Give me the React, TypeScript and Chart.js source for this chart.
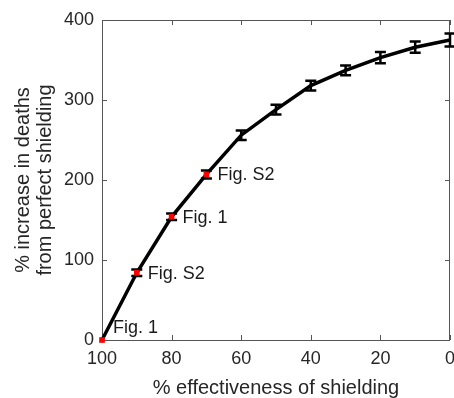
import React, { useEffect, useRef } from "react";
import { Chart, registerables } from "chart.js";

Chart.register(...registerables);

const effectiveness = [100, 90, 80, 70, 60, 50, 40, 30, 20, 10, 0];
const deathIncrease = [0, 84, 154, 207, 256, 288, 318, 337, 353, 366, 375];
const errorHalf = [0, 4, 4, 5, 6, 6, 6, 6, 7, 7, 8];
const highlighted = [100, 90, 80, 70];
const highlightLabels = ["Fig. 1", "Fig. S2", "Fig. 1", "Fig. S2"];
const xTicks = [100, 80, 60, 40, 20, 0];
const yTicks = [0, 100, 200, 300, 400];
const xTitle = "% effectiveness of shielding";
const yTitle = ["% increase in deaths", "from perfect shielding"];

const FONT = "'Liberation Sans', Arial, Helvetica, sans-serif";
const TEXT = "#262626";

const decor = {
  id: "decor",
  beforeDatasetsDraw(chart: any) {
    const { ctx, chartArea: a } = chart;
    const xs = chart.scales.x;
    const ys = chart.scales.y;
    ctx.save();
    ctx.strokeStyle = "#555";
    ctx.lineWidth = 1;
    ctx.strokeRect(a.left + 0.5, a.top + 0.5, a.right - a.left - 1, a.bottom - a.top);
    ctx.beginPath();
    const tl = 5;
    xTicks.forEach((v) => {
      const px = Math.round(xs.getPixelForValue(v)) + 0.5;
      ctx.moveTo(px, a.bottom);
      ctx.lineTo(px, a.bottom - tl);
      ctx.moveTo(px, a.top);
      ctx.lineTo(px, a.top + tl);
    });
    yTicks.forEach((v) => {
      const py = Math.round(ys.getPixelForValue(v)) + 0.5;
      ctx.moveTo(a.left, py);
      ctx.lineTo(a.left + tl, py);
      ctx.moveTo(a.right, py);
      ctx.lineTo(a.right - tl, py);
    });
    ctx.stroke();
    ctx.restore();
  },
  afterDatasetDraw(chart: any, args: any) {
    if (args.index !== 0) return;
    const ctx = chart.ctx;
    const xs = chart.scales.x;
    const ys = chart.scales.y;
    ctx.save();
    ctx.strokeStyle = "#000";
    ctx.lineWidth = 2.5;
    effectiveness.forEach((xv, i) => {
      const e = errorHalf[i];
      if (!e) return;
      const px = xs.getPixelForValue(xv);
      const top = ys.getPixelForValue(deathIncrease[i] + e);
      const bot = ys.getPixelForValue(deathIncrease[i] - e);
      const cw = 5.5;
      ctx.beginPath();
      ctx.moveTo(px, top);
      ctx.lineTo(px, bot);
      ctx.moveTo(px - cw, top);
      ctx.lineTo(px + cw, top);
      ctx.moveTo(px - cw, bot);
      ctx.lineTo(px + cw, bot);
      ctx.stroke();
    });
    ctx.restore();
  },
  afterDraw(chart: any) {
    const ctx = chart.ctx;
    const xs = chart.scales.x;
    const ys = chart.scales.y;
    ctx.save();
    ctx.fillStyle = "#1a1a1a";
    ctx.font = `18px ${FONT}`;
    ctx.textAlign = "left";
    ctx.textBaseline = "middle";
    highlighted.forEach((xv, i) => {
      const idx = effectiveness.indexOf(xv);
      const px = xs.getPixelForValue(xv) + 11;
      let py = ys.getPixelForValue(deathIncrease[idx]) + 1;
      if (deathIncrease[idx] === 0) py -= 13;
      ctx.fillText(highlightLabels[i], px, py);
    });
    ctx.restore();
  },
};

export default function App() {
  const ref = useRef<HTMLCanvasElement | null>(null);
  useEffect(() => {
    if (!ref.current) return;
    const markerData = highlighted.map((xv) => ({
      x: xv,
      y: deathIncrease[effectiveness.indexOf(xv)],
    }));
    const chart = new Chart(ref.current, {
      type: "scatter",
      data: {
        datasets: [
          {
            data: effectiveness.map((x, i) => ({ x, y: deathIncrease[i] })),
            showLine: true,
            borderColor: "#000",
            borderWidth: 3.5,
            pointRadius: 0,
            tension: 0,
            order: 2,
            clip: false as any,
          },
          {
            data: markerData,
            showLine: false,
            pointStyle: "rect",
            pointRadius: 4,
            backgroundColor: "#ff0000",
            borderWidth: 0,
            order: 1,
            clip: false as any,
          },
        ],
      },
      options: {
        animation: false,
        responsive: false,
        devicePixelRatio: 1,
        layout: { padding: { top: 20, right: 3, left: 0, bottom: 0 } },
        plugins: { legend: { display: false }, tooltip: { enabled: false } },
        scales: {
          x: {
            type: "linear",
            reverse: true,
            min: 0,
            max: 100,
            grid: { display: false, drawTicks: false },
            border: { display: false },
            afterBuildTicks: (s: any) => {
              s.ticks = xTicks.map((v) => ({ value: v }));
            },
            afterFit: (s: any) => {
              s.height = 58;
              s.paddingLeft = 0;
              s.paddingRight = 0;
            },
            ticks: {
              autoSkip: false,
              maxRotation: 0,
              padding: 8,
              color: TEXT,
              font: { family: FONT, size: 18 },
            },
            title: {
              display: true,
              text: xTitle,
              color: TEXT,
              font: { family: FONT, size: 20, lineHeight: 1 },
              padding: { top: 0, bottom: 0 },
            },
          },
          y: {
            type: "linear",
            min: 0,
            max: 400,
            grid: { display: false, drawTicks: false },
            border: { display: false },
            afterBuildTicks: (s: any) => {
              s.ticks = yTicks.map((v) => ({ value: v }));
            },
            afterFit: (s: any) => {
              s.width = 102;
              s.paddingTop = 0;
              s.paddingBottom = 0;
            },
            ticks: {
              padding: 8,
              color: TEXT,
              font: { family: FONT, size: 18 },
            },
            title: {
              display: true,
              text: yTitle,
              color: TEXT,
              font: { family: FONT, size: 20, lineHeight: 1.1 },
              padding: { top: 12, bottom: 0 },
            },
          },
        },
      },
      plugins: [decor],
    });
    return () => chart.destroy();
  }, []);
  return (
    <div style={{ position: "absolute", left: 0, top: 0, width: 454, height: 398, background: "#fff" }}>
      <canvas ref={ref} width={454} height={398} style={{ display: "block" }} />
    </div>
  );
}
